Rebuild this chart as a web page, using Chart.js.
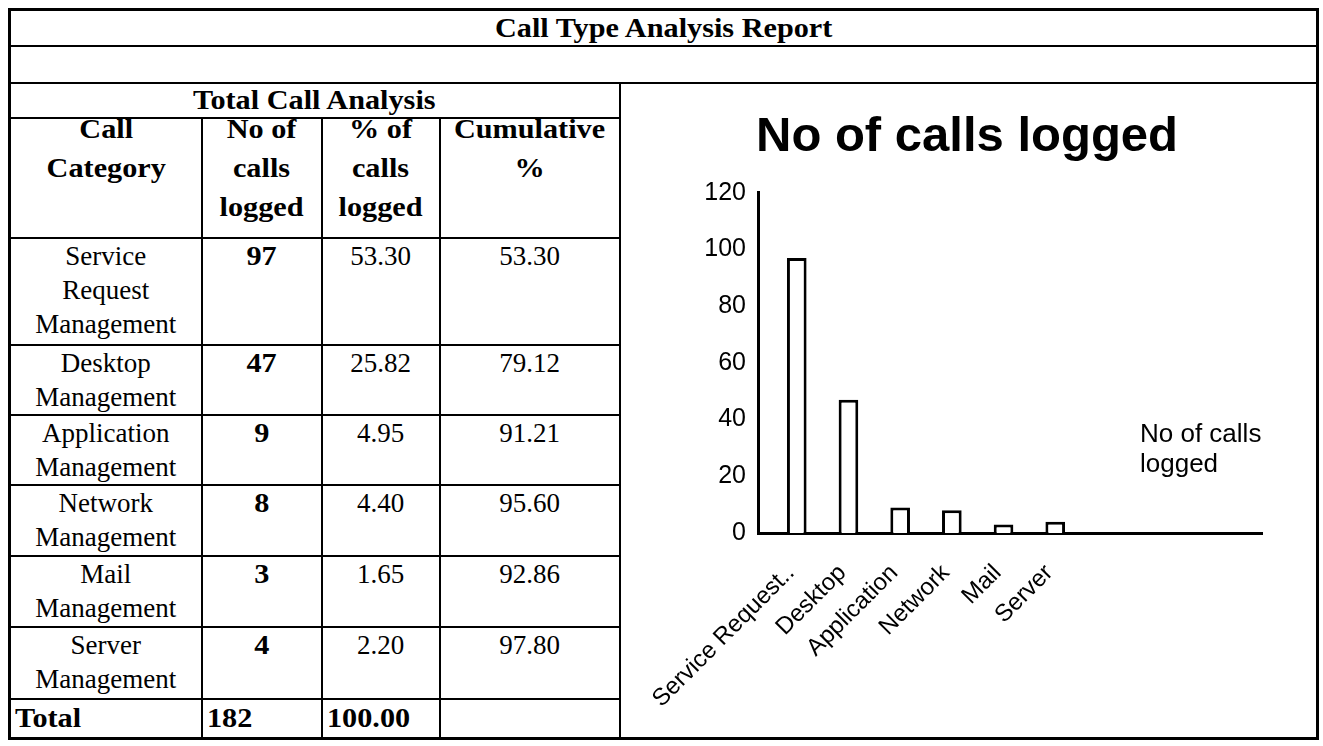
<!DOCTYPE html>
<html>
<head>
<meta charset="utf-8">
<title>Call Type Analysis Report</title>
<script src="https://cdn.jsdelivr.net/npm/chart.js@4.4.1/dist/chart.umd.min.js"></script>
<style>
  body { margin: 0; background: #fff; }
  table.report {
    position: absolute; left: 8px; top: 8px; width: 1308px;
    border-collapse: collapse; table-layout: fixed; border: 3px solid #000;
    font-family: "Liberation Serif", "Times New Roman", serif; font-size: 27px; color: #000;
  }
  .report td { border: 2px solid #000; padding: 0; vertical-align: top; text-align: center; line-height: 34px; overflow: hidden; }
  .report td.mid { vertical-align: middle; line-height: 30px; }
  .report td.left { text-align: left; padding-left: 4px; }
  .b { font-weight: bold; display: inline-block; transform: scaleX(1.12); }
  .left .b { transform-origin: left center; }
  .report tr.head td { line-height: 39px; }
  .report tr.head .b { position: relative; top: -9px; }
  #chartBox { position: absolute; left: 619px; top: 83px; width: 696px; height: 655px; }
</style>
</head>
<body>

<table class="report" id="report">
  <colgroup>
    <col style="width:192px"><col style="width:120px"><col style="width:118px"><col style="width:180px"><col style="width:698px">
  </colgroup>
  <tr style="height:36px"><td colspan="5" class="mid"><span class="b">Call Type Analysis Report</span></td></tr>
  <tr style="height:37px"><td colspan="5"></td></tr>
  <tr style="height:35px"><td colspan="4" class="mid"><span class="b">Total Call Analysis</span></td><td rowspan="9" id="chartCell"></td></tr>
</table>

<div id="chartBox"><canvas id="callChart" width="696" height="655"></canvas></div>

<script>
// table data
var headers = ["Call<br>Category", "No of<br>calls<br>logged", "% of<br>calls<br>logged", "Cumulative<br>%"];
var categories = ["Service Request Management", "Desktop Management", "Application Management",
                  "Network Management", "Mail Management", "Server Management"];
var calls = [97, 47, 9, 8, 3, 4];
var percentCalls = [53.30, 25.82, 4.95, 4.40, 1.65, 2.20];
var cumulative = [53.30, 79.12, 91.21, 95.60, 92.86, 97.80];
var totalCalls = 182;
var totalPercent = 100.00;

// chart data
var axisLabels = ["Service Request..", "Desktop", "Application", "Network", "Mail", "Server"];
var seriesName = "No of calls logged";
var legendLines = ["No of calls", "logged"];

// Build the table rows
var table = document.getElementById("report");
var rowHeights = [107, 69, 69, 71, 71, 72];

var head = table.insertRow(-1);
head.className = "head";
head.style.height = "120px";
headers.forEach(function (h) {
    var cell = head.insertCell(-1);
    cell.innerHTML = '<span class="b">' + h + '</span>';
});

for (var r = 0; r < categories.length; r++) {
    var row = table.insertRow(-1);
    row.style.height = rowHeights[r] + "px";
    row.insertCell(-1).innerHTML = categories[r].split(" ").join("<br>");
    row.insertCell(-1).innerHTML = '<span class="b">' + calls[r] + '</span>';
    row.insertCell(-1).innerHTML = percentCalls[r].toFixed(2);
    row.insertCell(-1).innerHTML = cumulative[r].toFixed(2);
}

var total = table.insertRow(-1);
total.style.height = "40px";
var cells = ["Total", totalCalls, totalPercent.toFixed(2), ""];
cells.forEach(function (t) {
    var cell = total.insertCell(-1);
    cell.className = "left mid";
    cell.innerHTML = t === "" ? "" : '<span class="b">' + t + '</span>';
});

// legend text drawn inside the plot, like the spreadsheet chart
var legendText = {
    id: "legendText",
    afterDraw: function (chart) {
        var ctx = chart.ctx, a = chart.chartArea;
        ctx.save();
        ctx.fillStyle = "#000";
        ctx.font = '26px "Liberation Sans", Arial, sans-serif';
        ctx.textBaseline = "middle";
        legendLines.forEach(function (t, i) {
            ctx.fillText(t, a.right - 122, a.top + 242 + i * 30);
        });
        ctx.restore();
    }
};

new Chart(document.getElementById("callChart"), {
    type: "bar",
    data: {
        datasets: [{
            label: seriesName,
            data: calls.map(function (v, i) { return { x: i, y: v }; }),
            backgroundColor: "#fff",
            borderColor: "#000",
            borderWidth: 3,
            barPercentage: 0.38,
            categoryPercentage: 1
        }]
    },
    options: {
        responsive: false,
        animation: false,
        layout: { padding: { left: 53, right: 53, top: 0, bottom: 7 } },
        plugins: {
            legend: { display: false },
            tooltip: { enabled: false },
            title: {
                display: true,
                text: seriesName,
                color: "#000",
                font: { family: "Liberation Sans", size: 49, weight: "bold" },
                padding: { top: 25, bottom: 26 }
            }
        },
        scales: {
            x: {
                type: "linear",
                offset: false,
                min: -0.75,
                max: 9,
                grid: { display: false, drawTicks: false },
                border: { color: "#000", width: 3 },
                ticks: {
                    stepSize: 1,
                    includeBounds: false,
                    autoSkip: false,
                    minRotation: 45,
                    maxRotation: 45,
                    padding: 26,
                    labelOffset: -6,
                    color: "#000",
                    font: { family: "Liberation Sans", size: 24 },
                    callback: function (v) { return axisLabels[v] || ""; }
                },
                afterFit: function (s) { s.height = 198; }
            },
            y: {
                min: 0,
                max: 120,
                grid: { display: false, drawTicks: false },
                border: { color: "#000", width: 3 },
                ticks: {
                    stepSize: 20,
                    padding: 12,
                    color: "#000",
                    font: { family: "Liberation Sans", size: 25 }
                },
                afterFit: function (s) { s.width = 86; }
            }
        }
    },
    plugins: [legendText]
});
</script>
</body>
</html>
